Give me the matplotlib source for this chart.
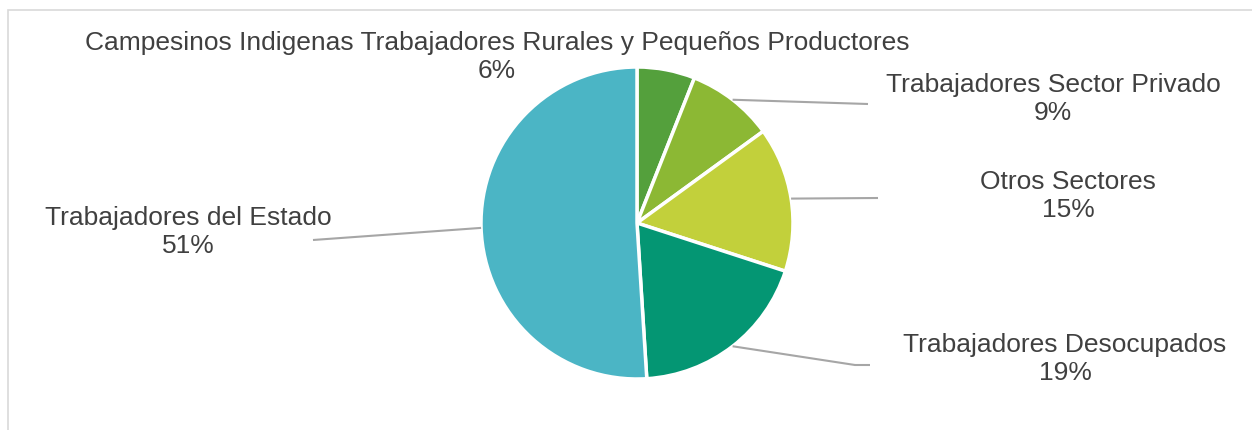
import numpy as np
import matplotlib.pyplot as plt
from matplotlib.patches import Rectangle

plt.rcParams['font.family'] = ['Liberation Sans', 'DejaVu Sans']

# data
categories = ['Campesinos Indigenas Trabajadores Rurales y Pequeños Productores',
              'Trabajadores Sector Privado',
              'Otros Sectores',
              'Trabajadores Desocupados',
              'Trabajadores del Estado']
shares = [6, 9, 15, 19, 51]
colors = ['#54A03C', '#8CB834', '#C2D03B', '#049673', '#4BB5C5']

# label layout in pixel coords (y measured from top)
label_pos = [(497, 57), (1053, 99), (1068, 196), (1065, 359), (188, 232)]
leader_end = [None, [(868, 104)], [(878, 198)], [(855, 365), (870, 365)], [(313, 240)]]

W, H = 1252, 430
cx, cy, r = 637, 223, 156

fig = plt.figure(figsize=(W / 100, H / 100), dpi=100)
ax = fig.add_axes([0, 0, 1, 1])

ax.pie(shares, colors=colors, startangle=90, counterclock=False,
       center=(cx, H - cy), radius=r,
       wedgeprops=dict(edgecolor='white', linewidth=2.5))

total = sum(shares)
cum = np.cumsum([0] + shares[:-1])
for i, (cat, val) in enumerate(zip(categories, shares)):
    pct = round(100 * val / total)
    lx, ly = label_pos[i]
    ax.text(lx, H - ly, f'{cat}\n{pct}%', ha='center', va='center',
            multialignment='center', fontsize=19, color='#404040', linespacing=1.22)
    if leader_end[i] is None:
        continue
    # leader line from the middle of the wedge edge
    ang = np.deg2rad(90 - 360 * (cum[i] + val / 2) / total)
    xs = [cx + r * np.cos(ang)] + [p[0] for p in leader_end[i]]
    ys = [H - cy + r * np.sin(ang)] + [H - p[1] for p in leader_end[i]]
    ax.plot(xs, ys, color='#A6A6A6', linewidth=1.5, solid_capstyle='butt')

# chart frame (only top/left visible in crop)
ax.add_patch(Rectangle((8, -20), W + 20, H - 10 + 20, fill=False,
                       edgecolor='#D9D9D9', linewidth=1.2))

ax.set_xlim(0, W)
ax.set_ylim(0, H)
ax.set_aspect('auto')
ax.axis('off')

fig.savefig('out.png', dpi=100)
